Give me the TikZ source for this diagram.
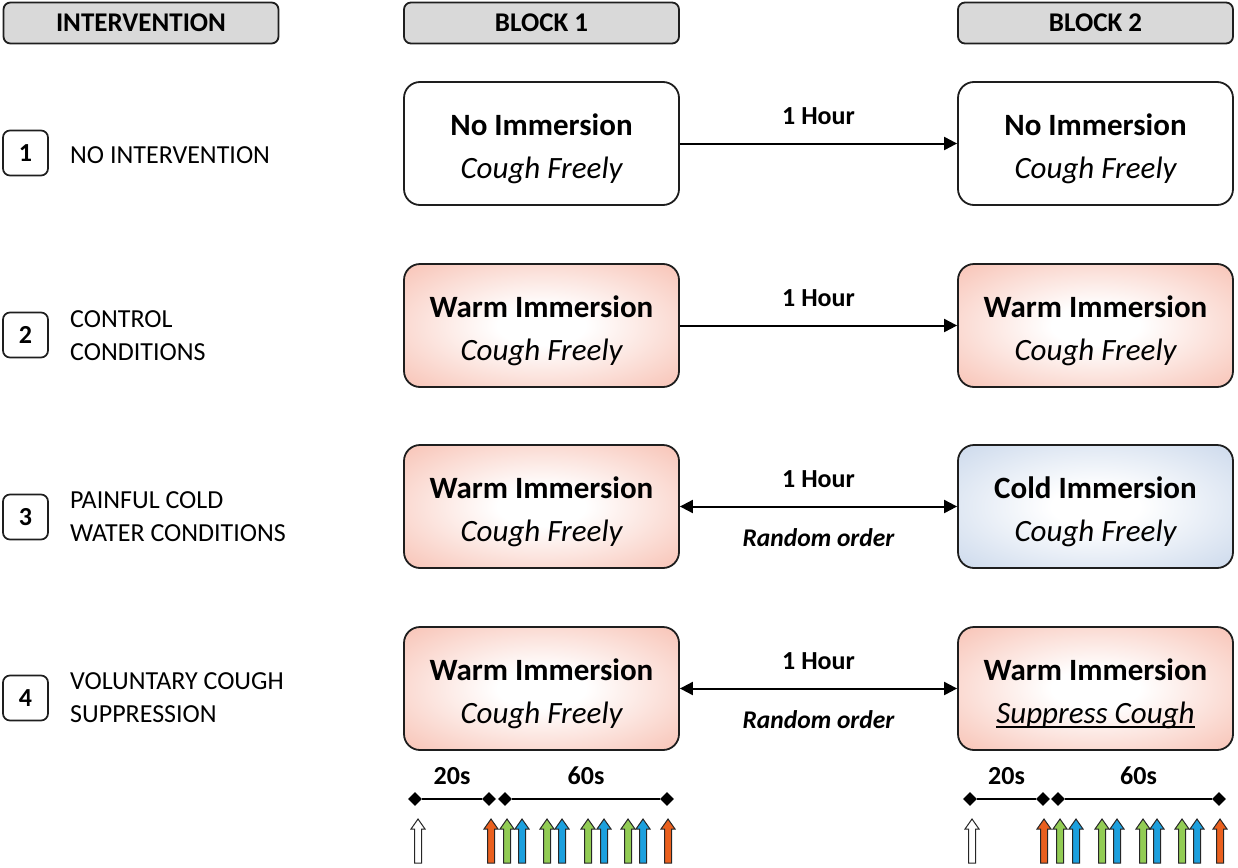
\documentclass[tikz,border=0pt]{standalone}
\usepackage{fontspec}
\setmainfont{Carlito}
\usetikzlibrary{arrows.meta,shapes.geometric}
\definecolor{hdr}{RGB}{217,217,217}
\definecolor{edgec}{RGB}{30,30,30}
\definecolor{warm}{RGB}{244,164,144}
\definecolor{cold}{RGB}{178,198,226}
\definecolor{aorange}{RGB}{234,96,30}
\definecolor{agreen}{RGB}{146,204,84}
\definecolor{ablue}{RGB}{28,160,222}
\pgfdeclareradialshading{warmshade}{\pgfpoint{0bp}{0bp}}{color(0bp)=(white); color(8bp)=(white); color(50bp)=(warm); color(75bp)=(warm)}
\pgfdeclareradialshading{coldshade}{\pgfpoint{0bp}{0bp}}{color(0bp)=(white); color(8bp)=(white); color(50bp)=(cold); color(75bp)=(cold)}
\newcommand\UpArr[3]{\draw[arrline,fill=#3] ({#1-3.5},863) -- ({#1+3.5},863) -- ({#1+3.5},829) -- ({#1+7},829) -- (#1,819) -- ({#1-7},829) -- ({#1-3.5},829) -- cycle;}
\newcommand\myul[1]{\setbox0\hbox{#1}\rlap{\rule[-4pt]{\wd0}{1.3pt}}\box0}
\tikzset{
  hdrbox/.style={draw=edgec, line width=1.8pt, rounded corners=7pt, fill=hdr, minimum width=275pt, minimum height=41pt, inner sep=0pt, font=\fontsize{27}{32}\selectfont\bfseries},
  condbox/.style={draw=edgec, line width=1.8pt, rounded corners=16pt, minimum width=275pt, minimum height=123pt, inner sep=0pt},
  warmbox/.style={condbox, shading=warmshade},
  coldbox/.style={condbox, shading=coldshade},
  plainbox/.style={condbox, fill=white},
  numbox/.style={draw=edgec, line width=1.7pt, rounded corners=7pt, minimum width=45pt, minimum height=45pt, inner sep=0pt, font=\fontsize{26}{30}\selectfont\bfseries},
  lbl/.style={anchor=west, align=left, inner sep=0pt, font=\fontsize{26}{33}\selectfont},
  ttl/.style={inner sep=0pt, font=\fontsize{31}{36}\selectfont\bfseries},
  sub/.style={inner sep=0pt, font=\fontsize{31}{36}\selectfont\itshape},
  hour/.style={inner sep=0pt, font=\fontsize{26}{30}\selectfont\bfseries},
  rnd/.style={inner sep=0pt, font=\fontsize{25.5}{30}\selectfont\bfseries\itshape},
  conn/.style={line width=2pt, -{Triangle[length=13pt,width=13pt]}},
  dconn/.style={line width=2pt, {Triangle[length=13pt,width=13pt]}-{Triangle[length=13pt,width=13pt]}},
  dia/.style={diamond, fill=black, inner sep=0pt, minimum size=14pt},
  tline/.style={line width=2pt},
  arrline/.style={draw=black!85, line width=1pt},
}
\begin{document}
\begin{tikzpicture}[x=1pt,y=-1pt]
\useasboundingbox (0,0) rectangle (1238,867);
% headers
\node[hdrbox] (h0) at (141,23) {INTERVENTION};
\node[hdrbox] (h1) at (541.5,23) {BLOCK 1};
\node[hdrbox] (h2) at (1095.5,23) {BLOCK 2};
% numbers and labels
\node[numbox] (n1) at (25.5,153) {1};
\node[numbox] (n2) at (25.5,335) {2};
\node[numbox] (n3) at (25.5,517) {3};
\node[numbox] (n4) at (25.5,698) {4};
\node[lbl] (l1) at (70,155) {NO INTERVENTION};
\node[lbl] (l2) at (70,336) {CONTROL\\CONDITIONS};
\node[lbl] (l3) at (70,517) {PAINFUL COLD\\WATER CONDITIONS};
\node[lbl] (l4) at (70,698) {VOLUNTARY COUGH\\SUPPRESSION};
% boxes
\node[plainbox] (b11) at (541.5,143.5) {};
\node[plainbox] (b12) at (1095.5,143.5) {};
\node[warmbox] (b21) at (541.5,325.5) {};
\node[warmbox] (b22) at (1095.5,325.5) {};
\node[warmbox] (b31) at (541.5,506.5) {};
\node[coldbox] (b32) at (1095.5,506.5) {};
\node[warmbox] (b41) at (541.5,688.5) {};
\node[warmbox] (b42) at (1095.5,688.5) {};
% box texts
\foreach \b/\t/\s in {b11/No Immersion/Cough Freely, b12/No Immersion/Cough Freely, b21/Warm Immersion/Cough Freely, b22/Warm Immersion/Cough Freely, b31/Warm Immersion/Cough Freely, b32/Cold Immersion/Cough Freely, b41/Warm Immersion/Cough Freely}{
  \node[ttl] (\b t) at ([yshift=19pt]\b.center) {\t};
  \node[sub] (\b s) at ([yshift=-27pt]\b.center) {\s};
}
\node[ttl] (b42t) at ([yshift=19pt]b42.center) {Warm Immersion};
\node[sub] (b42s) at ([yshift=-27pt]b42.center) {\myul{Suppress Cough}};
% connectors
\draw[conn] (b11.east) -- (b12.west) node[midway, yshift=27pt, hour] (c1) {1 Hour};
\draw[conn] (b21.east) -- (b22.west) node[midway, yshift=27pt, hour] (c2) {1 Hour};
\draw[dconn] (b31.east) -- (b32.west) node[midway, yshift=27pt, hour] (c3) {1 Hour} node[midway, yshift=-31pt, rnd] (r3) {Random order};
\draw[dconn] (b41.east) -- (b42.west) node[midway, yshift=27pt, hour] (c4) {1 Hour} node[midway, yshift=-31pt, rnd] (r4) {Random order};
% timelines block 1
\node[dia] (d1) at (415,799) {};
\node[dia] (d2) at (489,799) {};
\node[dia] (d3) at (505,799) {};
\node[dia] (d4) at (667,799) {};
\draw[tline] (d1) -- (d2) node[midway, yshift=23pt, hour] (t1) {20s};
\draw[tline] (d3) -- (d4) node[midway, yshift=23pt, hour] (t2) {60s};
\node[dia] (e1) at (970,799) {};
\node[dia] (e2) at (1043,799) {};
\node[dia] (e3) at (1058,799) {};
\node[dia] (e4) at (1219,799) {};
\draw[tline] (e1) -- (e2) node[midway, yshift=23pt, hour] (t3) {20s};
\draw[tline] (e3) -- (e4) node[midway, yshift=23pt, hour] (t4) {60s};
% up arrows block 1
\UpArr{418}{}{white}
\UpArr{491}{}{aorange}
\UpArr{507}{}{agreen}
\UpArr{522}{}{ablue}
\UpArr{547}{}{agreen}
\UpArr{562}{}{ablue}
\UpArr{588}{}{agreen}
\UpArr{604}{}{ablue}
\UpArr{628}{}{agreen}
\UpArr{643}{}{ablue}
\UpArr{668}{}{aorange}
% up arrows block 2
\UpArr{972}{}{white}
\UpArr{1044}{}{aorange}
\UpArr{1060}{}{agreen}
\UpArr{1076}{}{ablue}
\UpArr{1102}{}{agreen}
\UpArr{1117}{}{ablue}
\UpArr{1143}{}{agreen}
\UpArr{1157}{}{ablue}
\UpArr{1182}{}{agreen}
\UpArr{1197}{}{ablue}
\UpArr{1220}{}{aorange}
\end{tikzpicture}
\end{document}
